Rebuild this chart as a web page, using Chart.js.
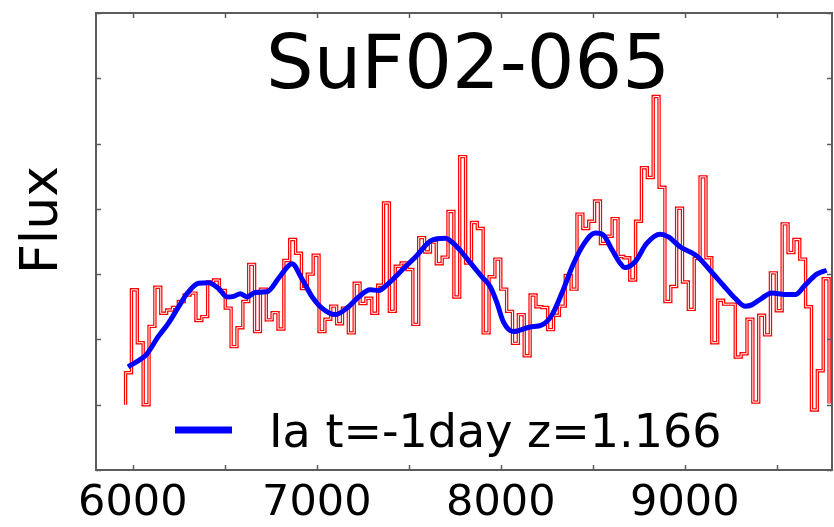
<!DOCTYPE html>
<html lang="en">
<head>
  <meta charset="UTF-8">
  <title>SuF02-065</title>
  <script src="https://cdn.jsdelivr.net/npm/chart.js"></script>
  <style>
    html, body { margin: 0; padding: 0; background: #fff; }
  </style>
</head>
<body>
  <canvas id="spec" width="834" height="527"></canvas>
  <script>
    // observed spectrum, binned: one flux value per bin
    const binStart = 5960.8;   // Angstrom, left edge of the first bin
    const binWidth = 31.86;    // Angstrom
    const binFlux = [
      1.49, 2.76, 1.95, 1.00, 2.20, 2.80, 2.40, 2.45, 2.49, 2.58,
      2.68, 2.71, 2.29, 2.35, 2.88, 2.91, 2.75, 2.48, 1.89, 2.18,
      2.58, 3.15, 2.12, 2.77, 2.30, 2.41, 2.16, 3.21, 3.53, 3.32,
      2.78, 3.00, 3.29, 2.12, 2.31, 2.51, 2.24, 2.48, 2.10, 2.86,
      2.55, 2.63, 2.40, 2.83, 4.09, 2.43, 3.12, 3.17, 3.07, 2.23,
      3.56, 3.34, 3.49, 3.16, 3.26, 3.96, 2.65, 4.80, 3.17, 3.79,
      3.70, 2.10, 2.96, 3.23, 2.77, 2.43, 1.94, 2.38, 1.75, 2.68,
      2.50, 2.49, 2.15, 2.37, 2.51, 2.98, 2.77, 3.92, 3.70, 3.81,
      4.12, 3.47, 3.58, 3.85, 3.27, 3.25, 2.91, 3.81, 4.63, 4.48,
      5.72, 4.33, 2.58, 2.81, 4.01, 2.88, 2.46, 3.24, 4.49, 3.25,
      1.95, 2.60, 2.54, 2.54, 1.73, 1.78, 2.31, 1.04, 2.37, 2.07,
      3.02, 2.44, 3.77, 3.33, 3.53, 3.23, 2.50, 0.92, 1.52, 2.93
    ];
    const edgeFlux = [1.00, 1.02];  // histogram opens and closes at these levels

    // best-fit template
    const modelWave = [
      5974, 6050, 6077, 6140, 6194, 6249, 6294, 6357, 6412, 6466,
      6512, 6548, 6584, 6620, 6665, 6729, 6801, 6865, 6919, 6973,
      7028, 7100, 7164, 7227, 7290, 7335, 7390, 7462, 7535, 7625,
      7698, 7761, 7824, 7897, 7942, 7978, 8014, 8069, 8159, 8223,
      8277, 8332, 8395, 8458, 8512, 8557, 8603, 8648, 8675, 8730,
      8793, 8866, 8911, 8974, 9065, 9137, 9209, 9273, 9327, 9364,
      9418, 9472, 9545, 9603, 9653, 9717, 9771
    ];
    const modelFlux = [
      1.58, 1.71, 1.78, 2.05, 2.25, 2.50, 2.70, 2.86, 2.87, 2.78,
      2.65, 2.66, 2.70, 2.65, 2.72, 2.73, 2.97, 3.16, 2.93, 2.66,
      2.48, 2.38, 2.48, 2.65, 2.76, 2.75, 2.86, 3.06, 3.26, 3.52,
      3.55, 3.42, 3.21, 2.96, 2.81, 2.57, 2.27, 2.12, 2.19, 2.22,
      2.37, 2.71, 3.16, 3.49, 3.63, 3.60, 3.38, 3.17, 3.10, 3.19,
      3.47, 3.61, 3.57, 3.42, 3.28, 3.06, 2.83, 2.63, 2.51, 2.53,
      2.63, 2.71, 2.69, 2.69, 2.83, 3.00, 3.06
    ];

    const xTickValues = [6000, 6500, 7000, 7500, 8000, 8500, 9000, 9500];
    const xLabels = [6000, 7000, 8000, 9000];
    const titleText = 'SuF02-065';
    const yTitle = 'Flux';
    const modelName = 'Ia t=-1day z=1.166';

    // histogram outline as stepped points on the bin edges
    const histo = [{ x: binStart, y: edgeFlux[0] }];
    binFlux.forEach((f, i) => histo.push({ x: binStart + i * binWidth, y: f }));
    histo.push({ x: binStart + binFlux.length * binWidth, y: edgeFlux[1] });

    const model = modelWave.map((w, i) => ({ x: w, y: modelFlux[i] }));

    const FONT = '"DejaVu Sans", sans-serif';

    // frame, inward ticks, title, axis name and key
    const decor = {
      id: 'decor',
      afterDraw(chart) {
        const { ctx, chartArea: a, scales: { x, y } } = chart;
        ctx.save();
        ctx.strokeStyle = '#5c5c5c';
        ctx.lineWidth = 1.5;
        ctx.beginPath();
        x.ticks.forEach(t => {
          const px = Math.round(x.getPixelForValue(t.value)) + 0.5;
          ctx.moveTo(px, a.bottom); ctx.lineTo(px, a.bottom - 5);
          ctx.moveTo(px, a.top); ctx.lineTo(px, a.top + 5);
        });
        y.ticks.forEach(t => {
          const py = Math.round(y.getPixelForValue(t.value)) + 0.5;
          ctx.moveTo(a.left, py); ctx.lineTo(a.left + 5, py);
          ctx.moveTo(a.right, py); ctx.lineTo(a.right - 5, py);
        });
        ctx.stroke();
        ctx.lineWidth = 2;
        ctx.strokeRect(a.left, a.top, a.right - a.left, a.bottom - a.top);

        ctx.fillStyle = '#000';
        ctx.textBaseline = 'alphabetic';
        ctx.textAlign = 'center';
        ctx.font = '75px ' + FONT;
        ctx.fillText(titleText, 468, 88);

        ctx.save();
        ctx.translate(57, 220);
        ctx.rotate(-Math.PI / 2);
        ctx.font = '52px ' + FONT;
        ctx.fillText(yTitle, 0, 0);
        ctx.restore();

        ctx.strokeStyle = '#0000ff';
        ctx.lineWidth = 7;
        ctx.beginPath();
        ctx.moveTo(175, 430); ctx.lineTo(232, 430);
        ctx.stroke();
        ctx.textAlign = 'left';
        ctx.font = '46px ' + FONT;
        ctx.fillText(modelName, 269, 447);
        ctx.restore();
      }
    };

    new Chart(document.getElementById('spec'), {
      type: 'line',
      data: {
        datasets: [
          {
            data: model, borderColor: '#0000ff', borderWidth: 5,
            pointRadius: 0, cubicInterpolationMode: 'monotone', order: 0
          },
          {
            data: histo, borderColor: '#ffffff', borderWidth: 1,
            pointRadius: 0, stepped: true, order: 1
          },
          {
            data: histo, borderColor: '#ff0000', borderWidth: 3.4,
            pointRadius: 0, stepped: true, borderJoinStyle: 'miter', order: 2
          }
        ]
      },
      options: {
        responsive: false,
        animation: false,
        devicePixelRatio: 1,
        layout: { padding: { top: 13, right: 2, left: 0, bottom: 0 } },
        plugins: { legend: { display: false }, tooltip: { enabled: false } },
        scales: {
          x: {
            type: 'linear', min: 5800, max: 9800,
            grid: { display: false, drawTicks: false },
            border: { display: false },
            afterBuildTicks: s => { s.ticks = xTickValues.map(v => ({ value: v })); },
            ticks: {
              autoSkip: false, maxRotation: 0, padding: 8,
              color: '#000', font: { family: FONT, size: 43 },
              callback: v => xLabels.includes(v) ? String(v) : ''
            },
            afterFit: s => { s.height = 57; }
          },
          y: {
            min: 0, max: 7,
            grid: { display: false, drawTicks: false },
            border: { display: false },
            ticks: { stepSize: 1, display: false },
            afterFit: s => { s.width = 96; }
          }
        }
      },
      plugins: [decor]
    });
  </script>
</body>
</html>
